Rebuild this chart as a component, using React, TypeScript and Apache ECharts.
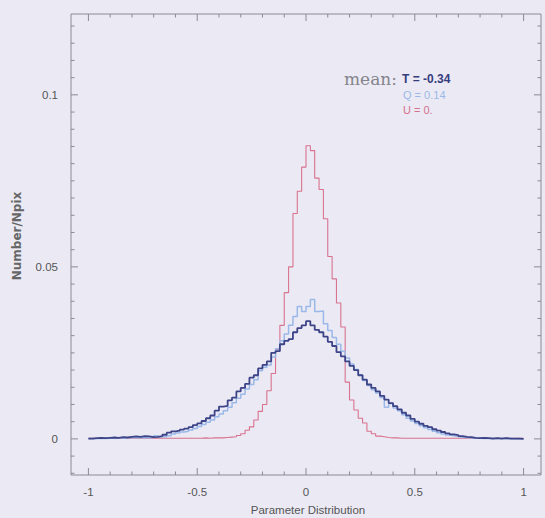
import React, { useEffect, useRef } from "react";
import * as echarts from "echarts";

// Histogram bins: left edges start at -1, width 0.02 (100 bins)
const BIN_START = -1;
const BIN_WIDTH = 0.02;

// T (dark navy)
const tValues = [
  0.0001, 0.0002, 0.0003, 0.0002, 0.0003, 0.0004, 0.0003, 0.0005, 0.0004, 0.0006,
  0.0007, 0.0006, 0.0008, 0.0007, 0.0005, 0.0006, 0.0008, 0.0012, 0.0018, 0.0022,
  0.0024, 0.0027, 0.0030, 0.0034, 0.0040, 0.0045, 0.0052, 0.0060, 0.0068, 0.0082,
  0.0094, 0.0096, 0.0112, 0.0120, 0.0138, 0.0148, 0.0160, 0.0178, 0.0185, 0.0205,
  0.0215, 0.0225, 0.0250, 0.0255, 0.0275, 0.0285, 0.0290, 0.0310, 0.0322, 0.0330,
  0.0342, 0.0330, 0.0317, 0.0310, 0.0297, 0.0282, 0.0270, 0.0252, 0.0240, 0.0225,
  0.0212, 0.0200, 0.0185, 0.0172, 0.0158, 0.0148, 0.0138, 0.0125, 0.0114, 0.0104,
  0.0095, 0.0086, 0.0076, 0.0068, 0.0058, 0.0050, 0.0044, 0.0038, 0.0034, 0.0028,
  0.0024, 0.0020, 0.0016, 0.0013, 0.0011, 0.0008, 0.0006, 0.0005, 0.0003, 0.0002,
  0.0003, 0.0002, 0.0001, 0.0002, 0.0001, 0.0002, 0.0001, 0.0001, 0.0001, 0.0000,
];

// Q (light blue)
const qValues = [
  0.0001, 0.0001, 0.0002, 0.0001, 0.0002, 0.0002, 0.0003, 0.0002, 0.0003, 0.0003,
  0.0004, 0.0003, 0.0004, 0.0003, 0.0004, 0.0009, 0.0006, 0.0006, 0.0009, 0.0014,
  0.0017, 0.0020, 0.0022, 0.0026, 0.0030, 0.0036, 0.0042, 0.0048, 0.0055, 0.0064,
  0.0072, 0.0082, 0.0092, 0.0105, 0.0118, 0.0130, 0.0145, 0.0158, 0.0172, 0.0198,
  0.0208, 0.0215, 0.0238, 0.0262, 0.0285, 0.0305, 0.0330, 0.0356, 0.0385, 0.0370,
  0.0385, 0.0405, 0.0370, 0.0372, 0.0335, 0.0315, 0.0295, 0.0275, 0.0255, 0.0235,
  0.0218, 0.0202, 0.0186, 0.0170, 0.0155, 0.0143, 0.0133, 0.0120, 0.0092, 0.0103,
  0.0090, 0.0082, 0.0070, 0.0060, 0.0052, 0.0045, 0.0038, 0.0032, 0.0027, 0.0022,
  0.0018, 0.0014, 0.0011, 0.0009, 0.0007, 0.0005, 0.0004, 0.0003, 0.0002, 0.0002,
  0.0001, 0.0001, 0.0002, 0.0001, 0.0001, 0.0001, 0.0001, 0.0000, 0.0001, 0.0000,
];

// U (pink / red)
const uValues = [
  0.0002, 0.0002, 0.0001, 0.0002, 0.0002, 0.0002, 0.0001, 0.0002, 0.0002, 0.0002,
  0.0002, 0.0002, 0.0002, 0.0002, 0.0002, 0.0002, 0.0002, 0.0002, 0.0002, 0.0002,
  0.0002, 0.0002, 0.0002, 0.0002, 0.0002, 0.0002, 0.0003, 0.0002, 0.0003, 0.0003,
  0.0003, 0.0004, 0.0005, 0.0006, 0.0010, 0.0015, 0.0025, 0.0035, 0.0055, 0.0080,
  0.0100, 0.0140, 0.0190, 0.0260, 0.0330, 0.0425, 0.0500, 0.0655, 0.0720, 0.0790,
  0.0852, 0.0838, 0.0758, 0.0725, 0.0640, 0.0530, 0.0465, 0.0395, 0.0325, 0.0165,
  0.0113, 0.0084, 0.0060, 0.0046, 0.0022, 0.0015, 0.0008, 0.0006, 0.0004, 0.0003,
  0.0003, 0.0002, 0.0002, 0.0002, 0.0002, 0.0002, 0.0002, 0.0002, 0.0002, 0.0002,
  0.0002, 0.0002, 0.0002, 0.0002, 0.0002, 0.0002, 0.0002, 0.0002, 0.0002, 0.0002,
  0.0002, 0.0002, 0.0002, 0.0002, 0.0002, 0.0002, 0.0002, 0.0002, 0.0002, 0.0002,
];

const xTickLabels = [-1, -0.5, 0, 0.5, 1];
const yTickLabels = [0, 0.05, 0.1];
const legendTitle = "mean:";
const legendEntries = ["T = -0.34", "Q = 0.14", "U = 0."];
const xAxisTitle = "Parameter Distribution";
const yAxisTitle = "Number/Npix";

const X_MIN = -1.08;
const X_MAX = 1.08;
const Y_MIN = -0.0105;
const Y_MAX = 0.1235;

const BG = "#ebeaf4";
const FRAME = "#8a8a96";

function toSteps(vals: number[]) {
  const pts: number[][] = vals.map((v, i) => [BIN_START + i * BIN_WIDTH, v]);
  pts.push([BIN_START + vals.length * BIN_WIDTH, vals[vals.length - 1]]);
  return pts;
}

function isLabel(list: number[], v: number) {
  return list.some((m) => Math.abs(m - v) < 1e-9);
}

export default function App() {
  const ref = useRef<HTMLDivElement>(null);
  useEffect(() => {
    if (!ref.current) return;
    const chart = echarts.init(ref.current, null, { renderer: "svg" });

    // tick marks: [side, value, length]; side 0 bottom, 1 top, 2 left, 3 right
    const ticks: number[][] = [];
    for (let k = -10; k <= 10; k++) {
      const v = k / 10;
      const len = k % 5 === 0 ? 7 : 3.5;
      ticks.push([0, v, len]);
      ticks.push([1, v, len]);
    }
    for (let k = -2; k <= 24; k++) {
      const v = k * 0.005;
      const len = k % 10 === 0 ? 7 : 3.5;
      ticks.push([2, v, len]);
      ticks.push([3, v, len]);
    }

    const option: any = {
      animation: false,
      backgroundColor: BG,
      grid: {
        left: 71,
        right: 4,
        top: 14,
        bottom: 43,
        show: true,
        borderColor: FRAME,
        borderWidth: 1,
        backgroundColor: "transparent",
        outerBoundsMode: "none",
      },
      xAxis: {
        type: "value",
        min: X_MIN,
        max: X_MAX,
        splitNumber: 4,
        axisLine: { show: false },
        axisTick: { show: false },
        splitLine: { show: false },
        axisLabel: {
          showMinLabel: false,
          showMaxLabel: false,
          margin: 11,
          color: "#555",
          fontSize: 11.5,
          fontFamily: "Liberation Sans, Arial, sans-serif",
          formatter: (v: number) => (isLabel(xTickLabels, v) ? String(v) : ""),
        },
      },
      yAxis: {
        type: "value",
        min: Y_MIN,
        max: Y_MAX,
        splitNumber: 3,
        axisLine: { show: false },
        axisTick: { show: false },
        splitLine: { show: false },
        axisLabel: {
          showMinLabel: false,
          showMaxLabel: false,
          margin: 13,
          color: "#555",
          fontSize: 11.5,
          fontFamily: "Liberation Sans, Arial, sans-serif",
          formatter: (v: number) => (isLabel(yTickLabels, v) ? String(v) : ""),
        },
      },
      series: [
        {
          type: "line",
          name: "U",
          data: toSteps(uValues),
          step: "end",
          symbol: "none",
          silent: true,
          lineStyle: { color: "#d9728f", width: 1.1 },
          z: 2,
        },
        {
          type: "line",
          name: "Q",
          data: toSteps(qValues),
          step: "end",
          symbol: "none",
          silent: true,
          lineStyle: { color: "#9ab8e8", width: 1.5 },
          z: 3,
        },
        {
          type: "line",
          name: "T",
          data: toSteps(tValues),
          step: "end",
          symbol: "none",
          silent: true,
          lineStyle: { color: "#3d4488", width: 1.8 },
          z: 4,
        },
        {
          type: "custom",
          silent: true,
          clip: false,
          data: ticks,
          z: 5,
          renderItem: (_params: any, api: any) => {
            const side = api.value(0);
            const v = api.value(1);
            const len = api.value(2);
            let x1 = 0, y1 = 0, x2 = 0, y2 = 0;
            if (side === 0) {
              const p = api.coord([v, Y_MIN]);
              x1 = p[0]; y1 = p[1]; x2 = p[0]; y2 = p[1] - len;
            } else if (side === 1) {
              const p = api.coord([v, Y_MAX]);
              x1 = p[0]; y1 = p[1]; x2 = p[0]; y2 = p[1] + len;
            } else if (side === 2) {
              const p = api.coord([X_MIN, v]);
              x1 = p[0]; y1 = p[1]; x2 = p[0] + len; y2 = p[1];
            } else {
              const p = api.coord([X_MAX, v]);
              x1 = p[0]; y1 = p[1]; x2 = p[0] - len; y2 = p[1];
            }
            return {
              type: "line",
              shape: { x1, y1, x2, y2 },
              style: { stroke: FRAME, lineWidth: 1 },
            };
          },
        },
      ],
      graphic: [
        {
          type: "text",
          x: 397,
          y: 79,
          style: {
            text: legendTitle,
            fill: "#84848c",
            font: "17px 'DejaVu Serif', serif",
            textAlign: "right",
            textVerticalAlign: "middle",
          },
        },
        {
          type: "text",
          x: 402,
          y: 79,
          style: {
            text: legendEntries[0],
            fill: "#363c7e",
            font: "bold 12px 'Liberation Sans', Arial, sans-serif",
            textAlign: "left",
            textVerticalAlign: "middle",
          },
        },
        {
          type: "text",
          x: 403,
          y: 95,
          style: {
            text: legendEntries[1],
            fill: "#9cb8e8",
            font: "11px 'Liberation Sans', Arial, sans-serif",
            textAlign: "left",
            textVerticalAlign: "middle",
          },
        },
        {
          type: "text",
          x: 403,
          y: 110,
          style: {
            text: legendEntries[2],
            fill: "#d6708e",
            font: "11px 'Liberation Sans', Arial, sans-serif",
            textAlign: "left",
            textVerticalAlign: "middle",
          },
        },
        {
          type: "text",
          x: 308,
          y: 510,
          style: {
            text: xAxisTitle,
            fill: "#555",
            font: "11.5px 'Liberation Sans', Arial, sans-serif",
            textAlign: "center",
            textVerticalAlign: "middle",
          },
        },
        {
          type: "text",
          x: 17,
          y: 236,
          rotation: Math.PI / 2,
          style: {
            text: yAxisTitle,
            fill: "#666",
            font: "bold 12px 'DejaVu Sans', sans-serif",
            textAlign: "center",
            textVerticalAlign: "middle",
          },
        },
      ],
    };
    chart.setOption(option);
    return () => chart.dispose();
  }, []);

  return (
    <div
      ref={ref}
      style={{ position: "absolute", left: 0, top: 0, width: 545, height: 518 }}
    />
  );
}
